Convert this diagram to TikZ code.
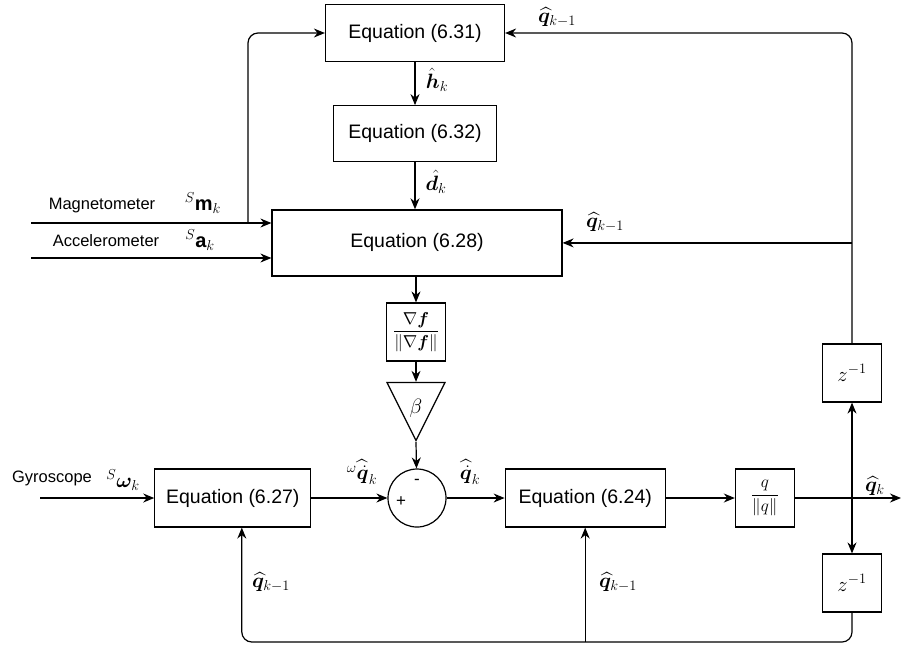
\documentclass[tikz,border=0pt]{standalone}
\usepackage{amsmath,bm}
\usepackage{fontspec}
\setmainfont{Liberation Sans}
\usetikzlibrary{shapes,arrows.meta,positioning}

\tikzstyle{block}=[draw, line width=1.2pt, inner sep=0pt, font=\fontsize{19.5}{23}\selectfont]
\tikzstyle{myarrow}=[-{Stealth[length=11pt,width=9pt]}, line width=1.2pt, rounded corners=10pt]
\tikzstyle{sensor}=[font=\fontsize{16.5}{20}\selectfont]
\tikzstyle{sig}=[font=\fontsize{20}{24}\selectfont, inner sep=0pt]

\begin{document}
\begin{tikzpicture}[x=1pt, y=-1pt]
    \useasboundingbox (0,0) rectangle (901,649);

    \node[block, minimum width=179pt, minimum height=57pt] (eq31) at (415,33) {Equation (6.31)};
    \node[block, minimum width=163pt, minimum height=56pt, below=43pt of eq31] (eq32) {Equation (6.32)};
    \draw[myarrow] (eq31) -- (eq32);

    \node[block, minimum width=290pt, minimum height=66pt, below=47pt of eq32, xshift=2pt] (eq28) {Equation (6.28)};
    \draw[myarrow] (eq32) -- (eq32 |- eq28.north);

    \node[block, minimum width=59pt, minimum height=58pt] (gradn) at (416,332)
        {\fontsize{17}{20}\selectfont $\dfrac{\nabla \bm{f}}{\|\nabla \bm{f}\|}$};
    \draw[myarrow] (gradn |- eq28.south) -- (gradn);

    \node[block, isosceles triangle, isosceles triangle stretches, shape border rotate=-90,
        minimum width=58pt, minimum height=58pt, anchor=apex] (gain) at (416,442) {};
    \node[inner sep=0pt, font=\fontsize{21}{24}\selectfont] (beta) at (416,408) {$\beta$};
    \draw[myarrow] (gradn) -- (gradn |- gain.north);

    \node[block, circle, minimum size=58pt] (sum) at (417,498) {};
    \node[font=\fontsize{17}{20}\selectfont] (plus) at ([xshift=-16pt,yshift=-4pt]sum.center) {+};
    \node[font=\fontsize{17}{20}\selectfont] (minus) at ([yshift=16pt]sum.center) {-};
    \draw[myarrow] (gain.apex) -- (sum);

    \node[block, minimum width=156pt, minimum height=58pt, left=76pt of sum] (eq27) {Equation (6.27)};
    \node[block, minimum width=160pt, minimum height=58pt, right=58pt of sum] (eq24) {Equation (6.24)};
    \node[block, minimum width=59pt, minimum height=58pt, right=69pt of eq24] (qnorm)
        {\fontsize{17}{20}\selectfont $\dfrac{q}{\|q\|}$};
    \draw[myarrow] (eq27) -- (sum);
    \draw[myarrow] (sum) -- (eq24);
    \draw[myarrow] (eq24) -- (qnorm);

    \node[block, minimum width=59pt, minimum height=58pt] (ztop) at (852,373) {\fontsize{20}{24}\selectfont $z^{-1}$};
    \node[block, minimum width=59pt, minimum height=58pt] (zbot) at (852,583) {\fontsize{20}{24}\selectfont $z^{-1}$};

    % output and delays
    \coordinate (out) at (901,498);
    \coordinate (split) at (852,498);
    \draw[myarrow] (qnorm) -- (out);
    \draw[myarrow] (split) -- (ztop);
    \draw[myarrow] (split) -- (zbot);

    % feedback, upper part
    \draw[myarrow] (ztop.north) |- (eq31.east);
    \draw[myarrow] (ztop.north |- eq28.east) -- (eq28.east);

    % feedback, lower part
    \coordinate (fb) at (0,642);
    \draw[myarrow] (zbot.south) |- (fb -| eq24.south) -| ([xshift=9pt]eq27.south);
    \draw[myarrow] (eq24.south |- fb) -- (eq24.south);

    % sensors
    \coordinate (magin) at (31,223);
    \coordinate (accin) at (31,258);
    \coordinate (gyrin) at (40,498);
    \coordinate (magjoin) at (248,223);
    \draw[myarrow] (magin) -- (eq28.west |- magin);
    \draw[myarrow] (accin) -- (eq28.west |- accin);
    \draw[myarrow] (magjoin) |- (eq31.west);
    \draw[myarrow] (gyrin) -- (eq27);

    \node[sensor] (mag) at (102,206) {Magnetometer};
    \node[sensor] (acc) at (106,241) {Accelerometer};
    \node[sensor] (gyr) at (52,478) {Gyroscope};

    % signal labels
    \node[sig] (smk) at (203,203) {${}^{S}\mathbf{m}_k$};
    \node[sig] (sak) at (200,240) {${}^{S}\mathbf{a}_k$};
    \node[sig] (swk) at (123,480) {${}^{S}\bm{\omega}_k$};
    \node[sig] (hk) at (437,80) {$\hat{\bm h}_k$};
    \node[sig] (dk) at (436,182) {$\hat{\bm d}_k$};
    \node[sig] (qtop) at (557,17) {$\widehat{\bm q}_{k-1}$};
    \node[sig] (qmid) at (605,222) {$\widehat{\bm q}_{k-1}$};
    \node[sig] (qleft) at (271,582) {$\widehat{\bm q}_{k-1}$};
    \node[sig] (qright) at (618,582) {$\widehat{\bm q}_{k-1}$};
    \node[sig] (wqdot) at (362,472) {${}^{\omega}\widehat{\dot{\bm q}}_k$};
    \node[sig] (qdot) at (470,472) {$\widehat{\dot{\bm q}}_k$};
    \node[sig] (qk) at (875,486) {$\widehat{\bm q}_k$};

\end{tikzpicture}
\end{document}
